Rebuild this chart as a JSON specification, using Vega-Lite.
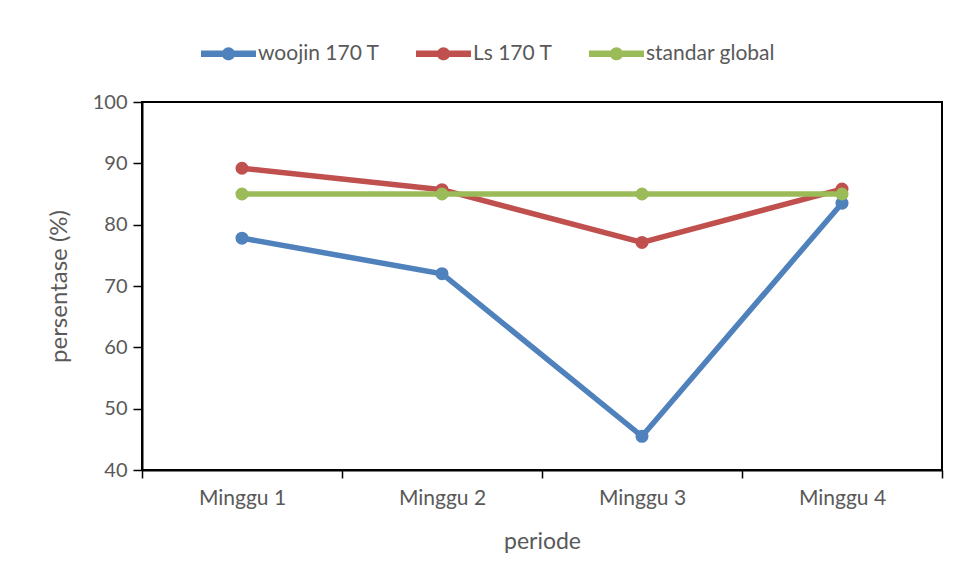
{
  "$schema": "https://vega.github.io/schema/vega-lite/v6.json",
  "width": 800,
  "height": 368,
  "autosize": {"type": "none"},
  "padding": {"left": 142, "top": 102, "right": 12, "bottom": 111},
  "background": "white",
  "config": {
    "font": "Lato",
    "view": {"stroke": "#000000", "strokeWidth": 2}
  },
  "data": {
    "values": [
      {"periode": "Minggu 1", "seri": "woojin 170 T", "nilai": 77.8},
      {"periode": "Minggu 2", "seri": "woojin 170 T", "nilai": 72.0},
      {"periode": "Minggu 3", "seri": "woojin 170 T", "nilai": 45.5},
      {"periode": "Minggu 4", "seri": "woojin 170 T", "nilai": 83.5},
      {"periode": "Minggu 1", "seri": "Ls 170 T", "nilai": 89.2},
      {"periode": "Minggu 2", "seri": "Ls 170 T", "nilai": 85.7},
      {"periode": "Minggu 3", "seri": "Ls 170 T", "nilai": 77.1},
      {"periode": "Minggu 4", "seri": "Ls 170 T", "nilai": 85.8},
      {"periode": "Minggu 1", "seri": "standar global", "nilai": 85},
      {"periode": "Minggu 2", "seri": "standar global", "nilai": 85},
      {"periode": "Minggu 3", "seri": "standar global", "nilai": 85},
      {"periode": "Minggu 4", "seri": "standar global", "nilai": 85}
    ]
  },
  "encoding": {
    "x": {
      "field": "periode",
      "type": "nominal",
      "sort": ["Minggu 1", "Minggu 2", "Minggu 3", "Minggu 4"],
      "bandPosition": 0.5,
      "scale": {"type": "band", "paddingInner": 0, "paddingOuter": 0},
      "axis": {
        "title": "periode",
        "labelAngle": 0,
        "tickBand": "extent",
        "domainColor": "#000000",
        "domainWidth": 2,
        "tickColor": "#000000",
        "tickWidth": 1.5,
        "tickSize": 8,
        "labelFontSize": 21,
        "labelColor": "#595959",
        "labelPadding": 9,
        "titleFontSize": 23,
        "titleFontWeight": "normal",
        "titleColor": "#595959",
        "titlePadding": 22
      }
    },
    "y": {
      "field": "nilai",
      "type": "quantitative",
      "scale": {"domain": [40, 100], "nice": false, "zero": false},
      "axis": {
        "title": "persentase (%)",
        "values": [40, 50, 60, 70, 80, 90, 100],
        "grid": false,
        "domainColor": "#000000",
        "domainWidth": 2,
        "tickColor": "#000000",
        "tickWidth": 1.5,
        "tickSize": 9,
        "labelFontSize": 20,
        "labelColor": "#595959",
        "labelPadding": 6,
        "titleFontSize": 24,
        "titleFontWeight": "normal",
        "titleColor": "#595959",
        "titlePadding": 21
      }
    },
    "color": {
      "field": "seri",
      "type": "nominal",
      "sort": ["woojin 170 T", "Ls 170 T", "standar global"],
      "scale": {
        "domain": ["woojin 170 T", "Ls 170 T", "standar global"],
        "range": ["#4F81BD", "#C0504D", "#9BBB59"]
      },
      "legend": {
        "title": null,
        "orient": "none",
        "legendX": 59,
        "legendY": -76,
        "direction": "horizontal",
        "columns": 3,
        "columnPadding": 36,
        "labelFontSize": 21,
        "labelColor": "#595959",
        "labelOffset": 2,
        "symbolType": "M-1,-0.12H1V0.12H-1Z M0.24,0A0.24,0.24,0,1,1,-0.24,0A0.24,0.24,0,1,1,0.24,0Z",
        "symbolSize": 3025,
        "symbolStrokeWidth": 0,
        "symbolOpacity": 1,
        "encode": {
          "symbols": {
            "update": {
              "fill": {"scale": "color", "field": "value"},
              "strokeWidth": {"value": 0}
            }
          }
        }
      }
    }
  },
  "layer": [
    {"mark": {"type": "line", "strokeWidth": 5.5}},
    {"mark": {"type": "point", "filled": true, "size": 170, "opacity": 1}}
  ]
}
